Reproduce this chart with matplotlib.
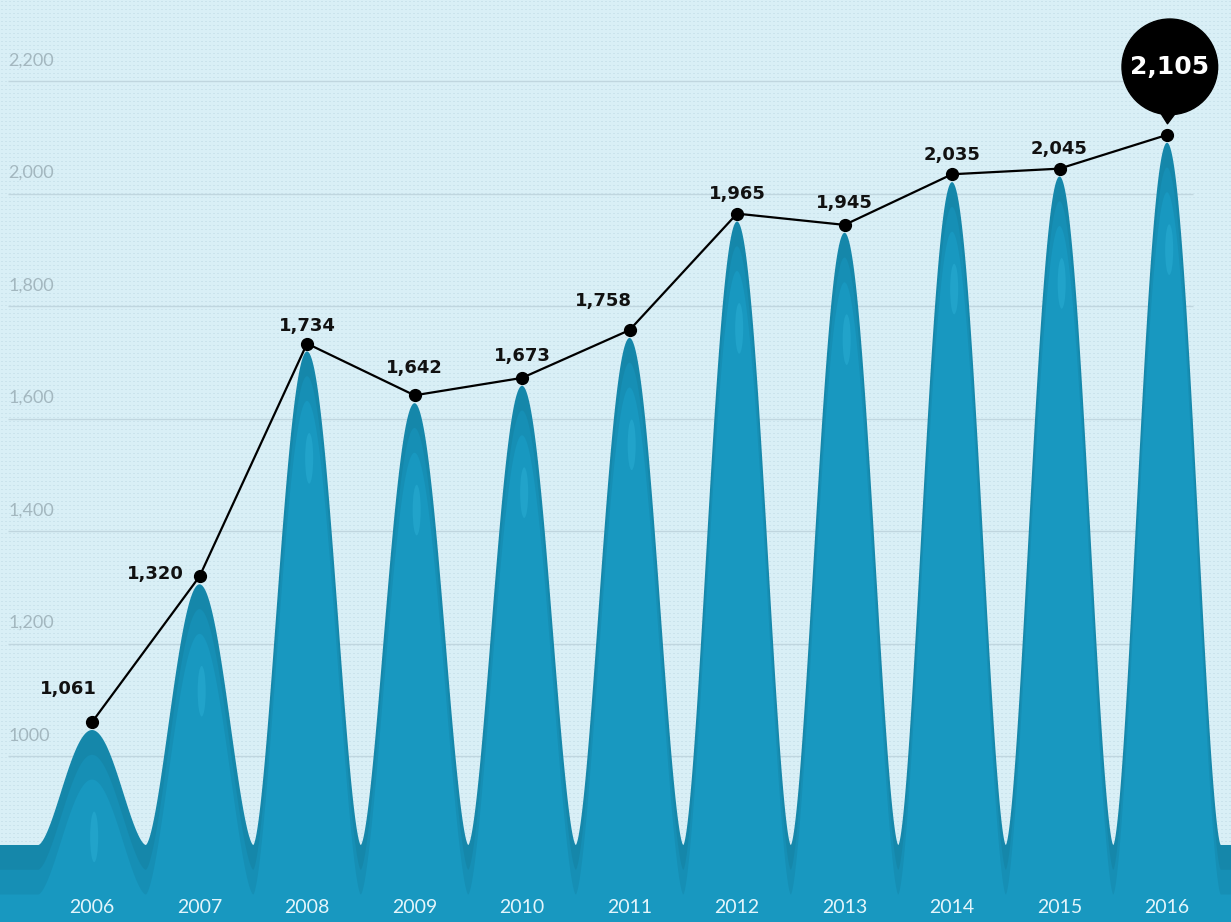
import numpy as np
import matplotlib.pyplot as plt
from matplotlib.patches import Ellipse

plt.rcParams['font.family'] = ['DejaVu Sans']

# ---- data ----
years = ['2006', '2007', '2008', '2009', '2010', '2011',
         '2012', '2013', '2014', '2015', '2016']
values = [1061, 1320, 1734, 1642, 1673, 1758, 1965, 1945, 2035, 2045, 2105]
value_labels = ['1,061', '1,320', '1,734', '1,642', '1,673', '1,758',
                '1,965', '1,945', '2,035', '2,045', '2,105']
tick_values = [1000, 1200, 1400, 1600, 1800, 2000, 2200]
tick_labels = ['1000', '1,200', '1,400', '1,600', '1,800', '2,000', '2,200']

# label offsets (points) relative to each dot
label_offsets = [(-17, 24), (-32, 2), (0, 13), (0, 20), (0, 16), (-19, 21),
                 (0, 14), (0, 16), (0, 14), (0, 14)]

BG = '#d9eff6'
BG_DOT = '#cae3ec'
GRID = '#c0d6df'
LAYER_COLORS = ['#1587aa', '#168fb5', '#1898c0']
HIGHLIGHT = '#2aaed4'

x_pos = np.arange(len(years))
xlim = (-0.856, 10.595)
ylim = (705.7, 2344.8)
base_level = 842.6
layer_shift = 44

fig = plt.figure(figsize=(12.31, 9.22), dpi=100)
ax = fig.add_axes([0, 0, 1, 1])

# dotted background texture
h, w = 922, 1231
tex = np.empty((h, w, 3))
tex[:, :] = np.array([int(BG[i:i + 2], 16) for i in (1, 3, 5)]) / 255
dot_rgb = np.array([int(BG_DOT[i:i + 2], 16) for i in (1, 3, 5)]) / 255
tex[1::4, 1::4] = dot_rgb
tex[1::4, 2::4] = dot_rgb
ax.imshow(tex, extent=(xlim[0], xlim[1], ylim[0], ylim[1]),
          aspect='auto', interpolation='nearest', zorder=0)

# horizontal grid lines and y labels
ax.hlines(tick_values, -0.78, 10.24, color=GRID, lw=1, zorder=1)
for tv, tl in zip(tick_values, tick_labels):
    ax.annotate(tl, xy=(-0.78, tv), xytext=(0, 15), textcoords='offset points',
                ha='left', va='center', fontsize=13, color='#a3b7bf',
                family=['Lato', 'DejaVu Sans'], zorder=1)

# layered peaks
xs = np.linspace(xlim[0], xlim[1], 4000)


def bump(u):
    u = np.clip(np.abs(u), 0, 1)
    return ((1 + np.cos(np.pi * u)) / 2) ** 0.8


curve = np.full_like(xs, base_level, dtype=float)
for xi, v in zip(x_pos, values):
    top = v - 14
    curve = np.maximum(curve, base_level + (top - base_level) * bump((xs - xi) / 0.5))

for k, col in enumerate(LAYER_COLORS):
    ax.fill_between(xs, ylim[0], curve - layer_shift * k, color=col, lw=0, zorder=2 + k)

# soft highlight inside each peak
for xi, v in zip(x_pos, values):
    ax.add_patch(Ellipse((xi + 0.02, v - 14 - 190), 0.075, 90, color=HIGHLIGHT,
                         alpha=0.5, lw=0, zorder=5))

# line with dots
ax.plot(x_pos, values, color='black', lw=1.6, marker='o', ms=8.5, zorder=7)

# value labels
for xi, v, lbl, off in zip(x_pos[:-1], values[:-1], value_labels[:-1], label_offsets):
    ax.annotate(lbl, xy=(xi, v), xytext=off, textcoords='offset points',
                ha='center', va='center', fontsize=13, fontweight='bold',
                color='#111111', zorder=8)

# speech bubble for latest value
ax.annotate(value_labels[-1], xy=(x_pos[-1], values[-1]), xytext=(2, 49),
            textcoords='offset points', ha='center', va='center',
            color='white', fontsize=18, fontweight='bold', zorder=9,
            bbox=dict(boxstyle='circle,pad=0.33', fc='black', ec='black'),
            arrowprops=dict(arrowstyle='wedge,tail_width=1.0',
                            fc='black', ec='black', patchA=None,
                            shrinkA=28, shrinkB=8))

# year labels
for xi, yr in zip(x_pos, years):
    ax.text(xi, 730.6, yr, ha='center', va='center', fontsize=14,
            color='#e3f5fb', family=['Lato', 'DejaVu Sans'], zorder=8)

ax.set_xlim(*xlim)
ax.set_ylim(*ylim)
ax.axis('off')

fig.savefig('out.png', dpi=100, facecolor=BG)
